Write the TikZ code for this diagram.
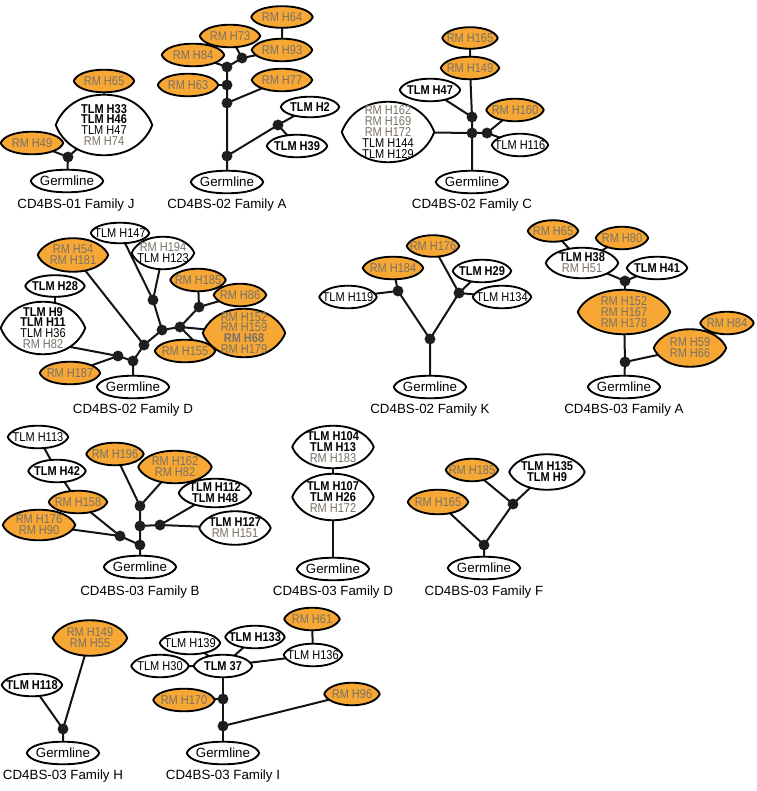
\documentclass[tikz,border=0pt]{standalone}
\usepackage{fontspec}
\setmainfont{Liberation Sans}
\newfontfamily\cloneFont[FakeStretch=0.86]{Liberation Sans}
\usetikzlibrary{backgrounds, calc}
\definecolor{rmOrange}{RGB}{246,167,52}
\definecolor{rmGray}{RGB}{122,114,104}
\definecolor{dotColor}{RGB}{30,30,30}
\definecolor{lineColor}{RGB}{20,20,20}
\newcommand\cloneText{\cloneFont\fontsize{9.6}{8.2}\selectfont}
\newcommand\germText{\fontsize{10}{11}\selectfont}
\newcommand\tlmB[1]{{\bfseries TLM #1}}
\newcommand\tlmR[1]{TLM #1}
\newcommand\rmR[1]{{\color{rmGray}RM #1}}
\newcommand\rmB[1]{{\color{rmGray}\bfseries RM #1}}

\begin{document}
\begin{tikzpicture}[
    x=0.75pt, y=-0.75pt,
    clone/.style 2 args={rectangle, inner sep=0pt, minimum width=#1*0.75pt, minimum height=#2*0.75pt,
                         align=center, font=\cloneText},
    germ/.style        ={clone={72}{22}, font=\germText},
    branchDot/.style   ={circle, fill=dotColor, inner sep=0pt, minimum size=8.2pt},
    famLabel/.style    ={font=\germText},
    link/.style        ={line width=1.5pt, draw=lineColor, line join=round},
    lensLine/.style    ={line width=1.4pt, draw=black, line join=round},
    fromTip/.style     ={out looseness=0.5, in looseness=1.4},
    toTip/.style       ={out looseness=1.4, in looseness=0.5},
]
\useasboundingbox (0,0) rectangle (756,791);

% =====================================================
% CD4BS-01 Family J
% =====================================================
\node[clone={60}{22}] (j1rm65)  at (104,81)  {\rmR{H65}};
\node[clone={96}{60}] (j1tlm33) at (104,125) {\tlmB{H33}\\\tlmB{H46}\\\tlmR{H47}\\\rmR{H74}};
\node[clone={62}{22}] (j1rm49)  at (32,143)  {\rmR{H49}};
\node[branchDot]      (j1n1)    at (68,157)  {};
\node[germ]           (j1g)     at (67,181)  {Germline};
\node[famLabel]       (j1cap)   at (76,205)  {CD4BS-01 Family J};

% =====================================================
% CD4BS-02 Family A
% =====================================================
\node[clone={61}{21}] (a2rm64)  at (282,17)  {\rmR{H64}};
\node[clone={60}{22}] (a2rm73)  at (230,36)  {\rmR{H73}};
\node[clone={60}{22}] (a2rm93)  at (282,50)  {\rmR{H93}};
\node[clone={62}{22}] (a2rm84)  at (193,55)  {\rmR{H84}};
\node[clone={60}{22}] (a2rm63)  at (188,85)  {\rmR{H63}};
\node[clone={60}{22}] (a2rm77)  at (282,80)  {\rmR{H77}};
\node[clone={58}{20}] (a2tlm2)  at (310,107) {\tlmB{H2}};
\node[clone={60}{22}] (a2tlm39) at (297,146) {\tlmB{H39}};
\node[branchDot] (a2n1) at (242,58)  {};
\node[branchDot] (a2n2) at (227,67)  {};
\node[branchDot] (a2n3) at (227,85)  {};
\node[branchDot] (a2n4) at (227,103) {};
\node[branchDot] (a2n5) at (278,125) {};
\node[branchDot] (a2n6) at (227,156) {};
\node[germ]      (a2g)   at (227,182) {Germline};
\node[famLabel]  (a2cap) at (227,205) {CD4BS-02 Family A};

% =====================================================
% CD4BS-02 Family C
% =====================================================
\node[clone={55}{21}] (c2rm165)  at (470,38)  {\rmR{H165}};
\node[clone={58}{22}] (c2rm149)  at (470,68)  {\rmR{H149}};
\node[clone={60}{22}] (c2tlm47)  at (430,90)  {\tlmB{H47}};
\node[clone={57}{22}] (c2rm160)  at (515,110) {\rmR{H160}};
\node[clone={92}{60}] (c2rm162)  at (388,132) {\rmR{H162}\\\rmR{H169}\\\rmR{H172}\\\tlmR{H144}\\\tlmR{H129}};
\node[clone={56}{22}] (c2tlm116) at (520,145) {\tlmR{H116}};
\node[branchDot] (c2n1) at (472,117) {};
\node[branchDot] (c2n2) at (472,133) {};
\node[branchDot] (c2n3) at (487,133) {};
\node[germ]      (c2g)   at (472,182) {Germline};
\node[famLabel]  (c2cap) at (472,205) {CD4BS-02 Family C};

% =====================================================
% CD4BS-02 Family D
% =====================================================
\node[clone={58}{20}] (d2tlm147) at (120,233) {\tlmR{H147}};
\node[clone={70}{33}] (d2rm54)   at (73,255)  {\rmR{H54}\\\rmR{H181}};
\node[clone={62}{32}] (d2rm194)  at (163,253) {\rmR{H194}\\\tlmR{H123}};
\node[clone={59}{21}] (d2tlm28)  at (55,286)  {\tlmB{H28}};
\node[clone={84}{52}] (d2tlm9)   at (43,328)  {\tlmB{H9}\\\tlmB{H11}\\\tlmR{H36}\\\rmR{H82}};
\node[clone={55}{22}] (d2rm185)  at (198,280) {\rmR{H185}};
\node[clone={52}{22}] (d2rm86)   at (240,295) {\rmR{H86}};
\node[clone={82}{48}] (d2rm152)  at (244,333) {\rmR{H152}\\\rmR{H159}\\\rmB{H68}\\\rmR{H179}};
\node[clone={60}{22}] (d2rm155)  at (185,351) {\rmR{H155}};
\node[clone={60}{22}] (d2rm187)  at (70,373)  {\rmR{H187}};
\node[branchDot] (d2n1) at (153,300) {};
\node[branchDot] (d2n2) at (199,307) {};
\node[branchDot] (d2n3) at (180,327) {};
\node[branchDot] (d2n4) at (162,330) {};
\node[branchDot] (d2n5) at (144,345) {};
\node[branchDot] (d2n6) at (133,361) {};
\node[branchDot] (d2n7) at (118,356) {};
\node[germ]      (d2g)   at (133,387) {Germline};
\node[famLabel]  (d2cap) at (133,410) {CD4BS-02 Family D};

% =====================================================
% CD4BS-02 Family K
% =====================================================
\node[clone={52}{21}] (k2rm176)  at (433,246) {\rmR{H176}};
\node[clone={60}{22}] (k2rm184)  at (393,268) {\rmR{H184}};
\node[clone={58}{22}] (k2tlm29)  at (482,271) {\tlmB{H29}};
\node[clone={57}{22}] (k2tlm119) at (348,297) {\tlmR{H119}};
\node[clone={58}{22}] (k2tlm134) at (502,297) {\tlmR{H134}};
\node[branchDot] (k2n1) at (398,291) {};
\node[branchDot] (k2n2) at (459,293) {};
\node[branchDot] (k2n3) at (430,339) {};
\node[germ]      (k2g)   at (430,387) {Germline};
\node[famLabel]  (k2cap) at (430,410) {CD4BS-02 Family K};

% =====================================================
% CD4BS-03 Family A
% =====================================================
\node[clone={50}{21}] (a3rm65)  at (553,231) {\rmR{H65}};
\node[clone={52}{22}] (a3rm80)  at (622,238) {\rmR{H80}};
\node[clone={72}{30}] (a3tlm38) at (582,263) {\tlmB{H38}\\\rmR{H51}};
\node[clone={60}{22}] (a3tlm41) at (657,268) {\tlmB{H41}};
\node[clone={92}{44}] (a3rm152) at (624,312) {\rmR{H152}\\\rmR{H167}\\\rmR{H178}};
\node[clone={53}{22}] (a3rm84)  at (727,323) {\rmR{H84}};
\node[clone={72}{37}] (a3rm59)  at (690,348) {\rmR{H59}\\\rmR{H66}};
\node[branchDot] (a3n1) at (625,281) {};
\node[branchDot] (a3n2) at (625,362) {};
\node[germ]      (a3g)   at (624,387) {Germline};
\node[famLabel]  (a3cap) at (624,410) {CD4BS-03 Family A};

% =====================================================
% CD4BS-03 Family B
% =====================================================
\node[clone={60}{22}] (b3tlm113) at (38,437)  {\tlmR{H113}};
\node[clone={57}{22}] (b3tlm42)  at (57,471)  {\tlmB{H42}};
\node[clone={57}{22}] (b3rm196)  at (115,454) {\rmR{H196}};
\node[clone={73}{32}] (b3rm162)  at (175,467) {\rmR{H162}\\\rmR{H82}};
\node[clone={72}{28}] (b3tlm112) at (215,493) {\tlmB{H112}\\\tlmB{H48}};
\node[clone={58}{22}] (b3rm158)  at (78,502)  {\rmR{H158}};
\node[clone={72}{30}] (b3rm176)  at (39,525)  {\rmR{H176}\\\rmR{H90}};
\node[clone={71}{33}] (b3tlm127) at (235,528) {\tlmB{H127}\\\rmR{H151}};
\node[branchDot] (b3n1) at (140,506) {};
\node[branchDot] (b3n2) at (140,526) {};
\node[branchDot] (b3n3) at (160,525) {};
\node[branchDot] (b3n4) at (120,536) {};
\node[branchDot] (b3n5) at (140,545) {};
\node[germ]      (b3g)   at (140,567) {Germline};
\node[famLabel]  (b3cap) at (140,592) {CD4BS-03 Family B};

% =====================================================
% CD4BS-03 Family D
% =====================================================
\node[clone={81}{42}] (d3tlm104) at (333,447) {\tlmB{H104}\\\tlmB{H13}\\\rmR{H183}};
\node[clone={81}{46}] (d3tlm107) at (333,497) {\tlmB{H107}\\\tlmB{H26}\\\rmR{H172}};
\node[germ]      (d3g)   at (333,569) {Germline};
\node[famLabel]  (d3cap) at (333,592) {CD4BS-03 Family D};

% =====================================================
% CD4BS-03 Family F
% =====================================================
\node[clone={52}{22}] (f3rm185)  at (472,470) {\rmR{H185}};
\node[clone={60}{24}] (f3rm165)  at (438,502) {\rmR{H165}};
\node[clone={75}{35}] (f3tlm135) at (547,472) {\tlmB{H135}\\\tlmB{H9}};
\node[branchDot] (f3n1) at (513,504) {};
\node[branchDot] (f3n2) at (484,545) {};
\node[germ]      (f3g)   at (484,568) {Germline};
\node[famLabel]  (f3cap) at (484,592) {CD4BS-03 Family F};

% =====================================================
% CD4BS-03 Family H
% =====================================================
\node[clone={74}{35}] (h3rm149)  at (90,638) {\rmR{H149}\\\rmR{H55}};
\node[clone={60}{22}] (h3tlm118) at (32,685) {\tlmB{H118}};
\node[branchDot] (h3n1) at (63,729) {};
\node[germ]      (h3g)   at (63,753) {Germline};
\node[famLabel]  (h3cap) at (63,776) {CD4BS-03 Family H};

% =====================================================
% CD4BS-03 Family I
% =====================================================
\node[clone={60}{22}] (i3tlm139) at (190,643) {\tlmR{H139}};
\node[clone={59}{22}] (i3tlm133) at (255,637) {\tlmB{H133}};
\node[clone={55}{22}] (i3rm61)   at (312,619) {\rmR{H61}};
\node[clone={58}{22}] (i3tlm136) at (313,655) {\tlmR{H136}};
\node[clone={57}{22}] (i3tlm30)  at (160,666) {\tlmR{H30}};
\node[clone={58}{22}] (i3tlm37)  at (223,666) {\tlmB{37}};
\node[clone={61}{22}] (i3rm170)  at (184,700) {\rmR{H170}};
\node[clone={55}{22}] (i3rm96)   at (352,694) {\rmR{H96}};
\node[branchDot] (i3n1) at (223,699) {};
\node[branchDot] (i3n2) at (223,726) {};
\node[germ]      (i3g)   at (223,753) {Germline};
\node[famLabel]  (i3cap) at (223,776) {CD4BS-03 Family I};

% =====================================================
% Connectors (behind the filled shapes)
% =====================================================
\begin{scope}[on background layer]
    % 01 J
    \draw[link] (j1rm65.center) -- (j1tlm33.center) -- (j1n1.center) -- (j1g.center);
    \draw[link] (j1rm49.center) -- (j1n1.center);
    % 02 A
    \draw[link] (a2rm64.center) -- (a2rm93.center) -- (a2n1.center) -- (a2n2.center) -- (a2n3.center)
                -- (a2n4.center) -- (a2n6.center) -- (a2g.center);
    \draw[link] (a2rm73.center) -- (a2n1.center);
    \draw[link] (a2rm84.center) -- (a2n2.center);
    \draw[link] (a2rm63.center) -- (a2n3.center);
    \draw[link] (a2rm77.center) -- (a2n4.center);
    \draw[link] (a2n6.center) -- (a2n5.center) -- (a2tlm2.center);
    \draw[link] (a2n5.center) -- (a2tlm39.center);
    % 02 C
    \draw[link] (c2rm165.center) -- (c2rm149.center) -- (c2n1.center) -- (c2n2.center) -- (c2g.center);
    \draw[link] (c2tlm47.center) -- (c2n1.center);
    \draw[link] (c2rm162.center) -- (c2n2.center) -- (c2n3.center) -- (c2rm160.center);
    \draw[link] (c2n3.center) -- (c2tlm116.center);
    % 02 D
    \draw[link] (d2tlm147.center) -- (d2n1.center) -- (d2n4.center) -- (d2n5.center) -- (d2n6.center) -- (d2g.center);
    \draw[link] (d2rm194.center) -- (d2n1.center);
    \draw[link] (d2rm185.center) -- (d2n2.center) -- (d2n3.center) -- (d2n4.center);
    \draw[link] (d2rm86.center) -- (d2n2.center);
    \draw[link] (d2rm152.center) -- (d2n3.center) -- ($(d2rm155.center)+(19,0)$);
    \draw[link] (d2rm54.center) -- (d2n5.center);
    \draw[link] (d2tlm28.center) -- ($(d2tlm9.center)+(12,0)$);
    \draw[link] ($(d2tlm9.center)+(17,17)$) -- (d2n7.center) -- (d2n6.center);
    \draw[link] (d2rm187.center) -- (d2n7.center);
    % 02 K
    \draw[link] (k2rm184.center) -- (k2n1.center) -- (k2n3.center) -- (k2g.center);
    \draw[link] (k2tlm119.center) -- (k2n1.center);
    \draw[link] (k2rm176.center) -- (k2n2.center) -- (k2n3.center);
    \draw[link] (k2tlm29.center) -- (k2n2.center) -- (k2tlm134.center);
    % 03 A
    \draw[link] (a3rm65.center) -- (a3tlm38.center) -- (a3n1.center) -- (a3rm152.center) -- (a3n2.center) -- (a3g.center);
    \draw[link] (a3rm80.center) -- (a3tlm38.center);
    \draw[link] (a3tlm41.center) -- (a3n1.center);
    \draw[link] (a3n2.center) -- (a3rm59.center) -- (a3rm84.center);
    % 03 B
    \draw[link] (b3tlm113.center) -- (b3tlm42.center) -- (b3rm158.center) -- (b3n4.center) -- (b3n5.center) -- (b3g.center);
    \draw[link] (b3rm176.center) -- (b3n4.center);
    \draw[link] (b3rm196.center) -- (b3n1.center) -- (b3n2.center) -- (b3n5.center);
    \draw[link] (b3rm162.center) -- (b3n1.center);
    \draw[link] (b3n2.center) -- (b3n3.center) -- (b3tlm112.center);
    \draw[link] (b3n3.center) -- (b3tlm127.center);
    % 03 D
    \draw[link] (d3tlm104.center) -- (d3tlm107.center) -- (d3g.center);
    % 03 F
    \draw[link] (f3rm185.center) -- (f3n1.center) -- (f3n2.center) -- (f3g.center);
    \draw[link] (f3tlm135.center) -- (f3n1.center);
    \draw[link] (f3rm165.center) -- (f3n2.center);
    % 03 H
    \draw[link] (h3rm149.center) -- (h3n1.center) -- (h3g.center);
    \draw[link] (h3tlm118.center) -- (h3n1.center);
    % 03 I
    \draw[link] (i3tlm30.center) -- (i3tlm37.center) -- (i3tlm136.center) -- (i3rm61.center);
    \draw[link] (i3tlm139.center) -- (i3tlm37.center) -- (i3tlm133.center);
    \draw[link] (i3tlm37.center) -- (i3n1.center) -- (i3n2.center) -- (i3g.center);
    \draw[link] (i3rm170.center) -- (i3n1.center);
    \draw[link] (i3n2.center) -- (i3rm96.center);
\end{scope}

% =====================================================
% Lens outlines (over the connectors, under the text)
% =====================================================
\begin{scope}[on background layer]
    \foreach \n in {j1rm65, j1rm49, a2rm64, a2rm73, a2rm93, a2rm84, a2rm63, a2rm77,
                    c2rm165, c2rm149, c2rm160, d2rm54, d2rm185, d2rm86, d2rm152, d2rm155, d2rm187,
                    k2rm176, k2rm184, a3rm65, a3rm80, a3rm152, a3rm84, a3rm59,
                    b3rm196, b3rm162, b3rm158, b3rm176, f3rm185, f3rm165, h3rm149, i3rm61, i3rm170, i3rm96}
        \draw[lensLine, fill=rmOrange]
              (\n.west) to[fromTip, out=70, in=180] (\n.north) to[toTip, out=0, in=110] (\n.east)
              to[fromTip, out=-110, in=0] (\n.south) to[toTip, out=180, in=-70] (\n.west) -- cycle;
    \foreach \n in {j1tlm33, j1g, a2tlm2, a2tlm39, a2g, c2tlm47, c2rm162, c2tlm116, c2g,
                    d2tlm147, d2rm194, d2tlm28, d2tlm9, d2g, k2tlm29, k2tlm119, k2tlm134, k2g,
                    a3tlm38, a3tlm41, a3g, b3tlm113, b3tlm42, b3tlm112, b3tlm127, b3g,
                    d3tlm104, d3tlm107, d3g, f3tlm135, f3g, h3tlm118, h3g,
                    i3tlm139, i3tlm133, i3tlm136, i3tlm30, i3tlm37, i3g}
        \draw[lensLine, fill=white]
              (\n.west) to[fromTip, out=70, in=180] (\n.north) to[toTip, out=0, in=110] (\n.east)
              to[fromTip, out=-110, in=0] (\n.south) to[toTip, out=180, in=-70] (\n.west) -- cycle;
\end{scope}

\end{tikzpicture}
\end{document}
